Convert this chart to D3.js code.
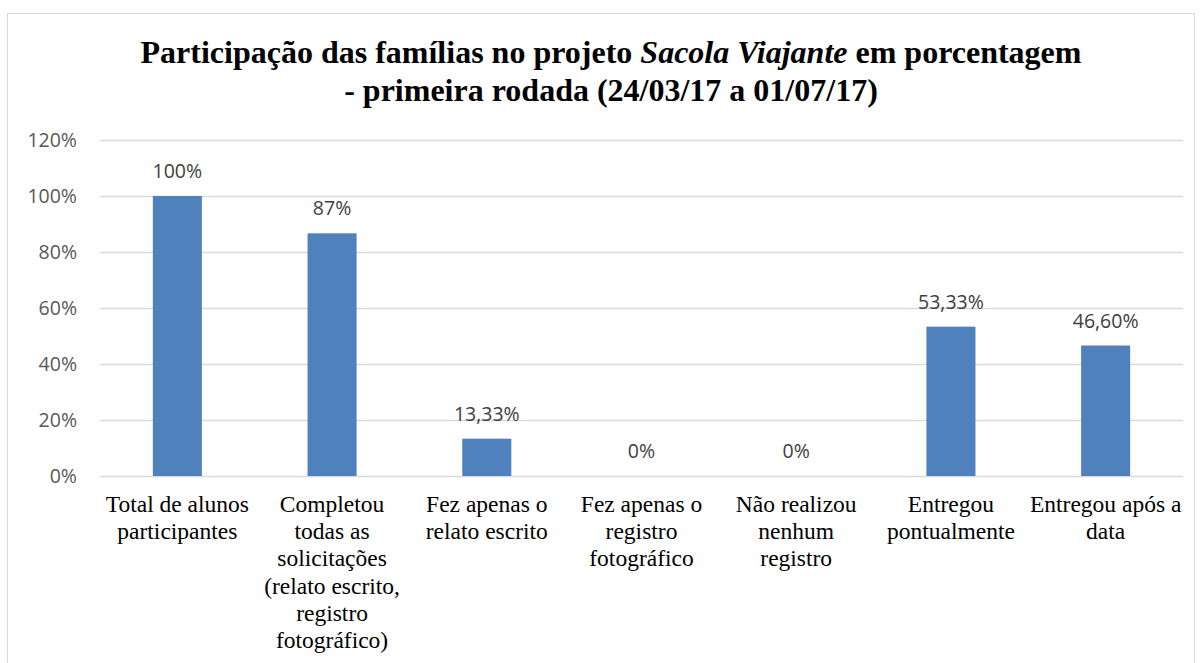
<!DOCTYPE html>
<html>
<head>
<meta charset="utf-8">
<script src="https://cdn.jsdelivr.net/npm/d3@7"></script>
<style>
  body { margin: 0; background: #fff; }
  svg { display: block; }
  .serif { font-family: 'Liberation Serif', 'Times New Roman', serif; }
  .sans { font-family: 'Open Sans', 'Noto Sans', sans-serif; }
</style>
</head>
<body>
<div id="chart"></div>
<script>
// data
let categories = [
	['Total de alunos', 'participantes'],
	['Completou', 'todas as', 'solicitações', '(relato escrito,', 'registro', 'fotográfico)'],
	['Fez apenas o', 'relato escrito'],
	['Fez apenas o', 'registro', 'fotográfico'],
	['Não realizou', 'nenhum', 'registro'],
	['Entregou', 'pontualmente'],
	['Entregou após a', 'data']
];
let values = [100, 86.67, 13.33, 0, 0, 53.33, 46.6];
let valueLabels = ['100%', '87%', '13,33%', '0%', '0%', '53,33%', '46,60%'];
let yTicks = [0, 20, 40, 60, 80, 100, 120];

renderChart();

function renderChart() {
	let width = 1203, height = 663;
	let plot = {left: 100, right: 1183, top: 140, bottom: 476};

	let svg = d3.select('#chart').append('svg')
		.attr('width', width)
		.attr('height', height);

	//chart border
	svg.append('rect')
		.attr('x', 7.5).attr('y', 13.5)
		.attr('width', 1187).attr('height', 660)
		.attr('fill', 'none')
		.attr('stroke', '#d9d9d9')
		.attr('stroke-width', 1);

	//title, two lines, "Sacola Viajante" in italic
	let title = svg.append('text')
		.attr('class', 'serif')
		.attr('text-anchor', 'middle')
		.style('font-weight', 'bold')
		.style('font-size', '32px')
		.attr('fill', '#000');
	let t1 = title.append('tspan').attr('x', 611).attr('y', 63);
	t1.append('tspan').text('Participação das famílias no projeto ');
	t1.append('tspan').style('font-style', 'italic').text('Sacola Viajante');
	t1.append('tspan').text(' em porcentagem');
	title.append('tspan').attr('x', 611).attr('y', 101)
		.text('- primeira rodada (24/03/17 a 01/07/17)');

	let x = d3.scaleBand()
		.domain(d3.range(categories.length))
		.range([plot.left, plot.right])
		.padding(0);
	let y = d3.scaleLinear()
		.domain([0, 120])
		.range([plot.bottom, plot.top]);
	let barWidth = x.bandwidth() * 0.317;

	//gridlines + y labels via axis
	let yAxis = d3.axisLeft(y)
		.tickValues(yTicks)
		.tickSize(-(plot.right - plot.left))
		.tickPadding(23)
		.tickFormat(d => d + '%');
	let gy = svg.append('g')
		.attr('transform', 'translate(' + plot.left + ',0)')
		.call(yAxis);
	gy.select('.domain').remove();
	gy.selectAll('.tick line')
		.attr('stroke', '#d9d9d9')
		.attr('stroke-width', 1.3);
	gy.selectAll('.tick text')
		.attr('class', 'sans')
		.style('font-size', '19.5px')
		.attr('fill', '#595959');

	//bars
	svg.append('g').selectAll('rect')
		.data(values)
		.join('rect')
		.attr('x', (d, i) => x(i) + x.bandwidth() / 2 - barWidth / 2)
		.attr('y', d => y(d))
		.attr('width', barWidth)
		.attr('height', d => y(0) - y(d))
		.attr('fill', '#4f81bd');

	//value labels
	svg.append('g').selectAll('text')
		.data(values)
		.join('text')
		.attr('class', 'sans')
		.attr('x', (d, i) => x(i) + x.bandwidth() / 2)
		.attr('y', d => y(d) - 18)
		.attr('text-anchor', 'middle')
		.style('font-size', '19.5px')
		.attr('fill', '#404040')
		.text((d, i) => valueLabels[i]);

	//category labels, multi-line
	let gx = svg.append('g');
	categories.forEach(function(lines, i) {
		let t = gx.append('text')
			.attr('class', 'serif')
			.attr('text-anchor', 'middle')
			.style('font-size', '23.5px')
			.attr('fill', '#000');
		lines.forEach(function(line, j) {
			t.append('tspan')
				.attr('x', x(i) + x.bandwidth() / 2)
				.attr('y', 512 + j * 27.2)
				.text(line);
		});
	});
}
</script>
</body>
</html>
